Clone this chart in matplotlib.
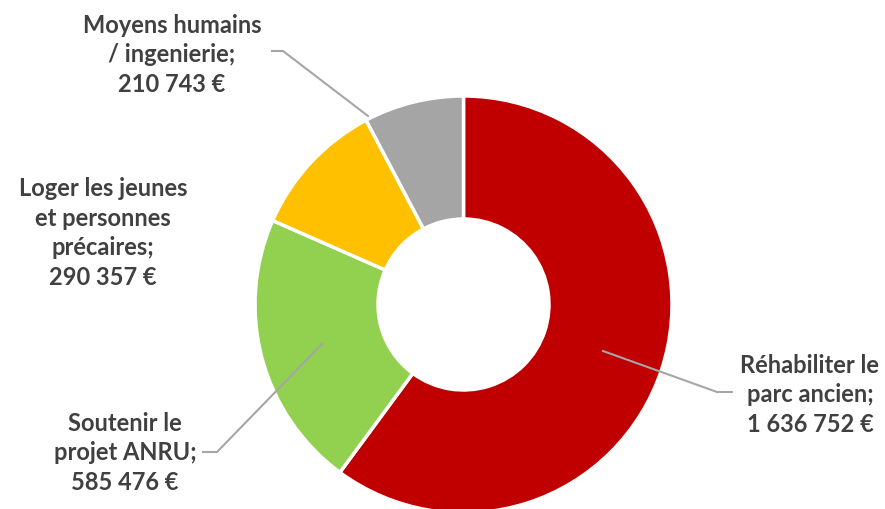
import matplotlib.pyplot as plt

# data
labels = ["Réhabiliter le\nparc ancien;\n1 636 752 €",
          "Soutenir le\nprojet ANRU;\n585 476 €",
          "Loger les jeunes\net personnes\nprécaires;\n290 357 €",
          "Moyens humains\n/ ingenierie;\n210 743 €"]
values = [1636752, 585476, 290357, 210743]
colors = ["#C00000", "#92D050", "#FFC000", "#A5A5A5"]

# label anchors (pixel coords, origin bottom-left)
label_pos = [(810, 115), (125, 57), (103, 277), (172, 455)]
leaders = [
    [(603, 158), (717, 117), (732, 117)],
    [(322, 165), (217, 57), (203, 57)],
    None,
    [(368, 393), (283, 458), (272, 458)],
]

fig = plt.figure(figsize=(8.85, 5.1), dpi=100)
ax = fig.add_axes([0, 0, 1, 1])

ax.pie(values, colors=colors, startangle=90, counterclock=False,
       center=(463.5, 204.5), radius=208.5, frame=True,
       wedgeprops=dict(width=123, edgecolor="white", linewidth=2.5))
ax.set_xlim(0, 885)
ax.set_ylim(0, 510)
ax.set_aspect("equal")
ax.axis("off")

for lab, (x, y), ld in zip(labels, label_pos, leaders):
    ax.text(x, y, lab, ha="center", va="center", fontsize=17,
            fontweight="bold", family="Lato", color="#404040",
            linespacing=1.36)
    if ld:
        xs, ys = zip(*ld)
        ax.plot(xs, ys, color="#A6A6A6", lw=1.5)

fig.savefig("out.png", dpi=100)
